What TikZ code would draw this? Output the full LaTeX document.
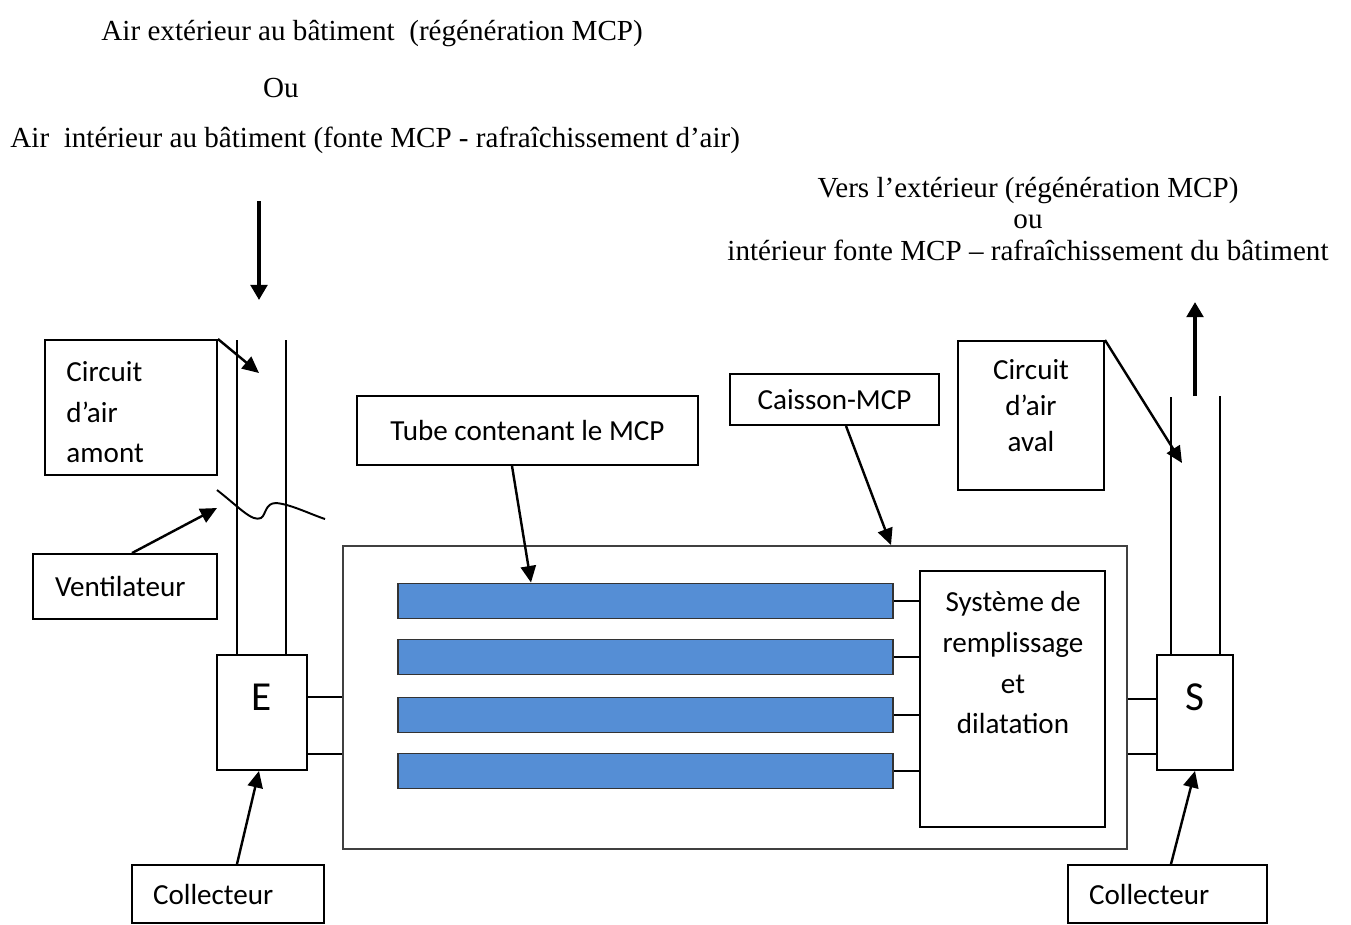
\documentclass[tikz,border=0pt]{standalone}
\usepackage{fontspec}
\setmainfont{Liberation Serif}
\newfontfamily\calibrifont{Carlito}
\usetikzlibrary{arrows.meta, positioning}
\newcommand{\pxu}{0.0145cm}
\definecolor{tubeblue}{RGB}{85,142,213}

\begin{document}
\begin{tikzpicture}[
    x=\pxu, y=-\pxu,
    caption/.style={inner sep=0pt, font=\fontsize{12}{13}\selectfont},
    box/.style={
      draw=black,
      line width=0.8pt,
      inner sep=0pt,
      font=\calibrifont\fontsize{12}{14}\selectfont
    },
    boxtext/.style={inner sep=0pt, font=\calibrifont\fontsize{12}{16.8}\selectfont},
    tube/.style={
      draw=black!80,
      fill=tubeblue,
      line width=0.8pt,
      inner sep=0pt,
      minimum width=495*\pxu,
      minimum height=35*\pxu
    },
    wall/.style={line width=0.8pt},
    line/.style={-{Triangle[length=0.24cm, width=0.22cm]}, line width=1pt},
    flow/.style={-{Triangle[length=0.22cm, width=0.24cm]}, line width=1.6pt}
  ]
    \useasboundingbox (0,0) rectangle (1351,924);

    % textes du haut
    \node[caption, anchor=west] (inair) at (101,34) {Air extérieur au bâtiment~ (régénération MCP)};
    \node[caption] (inor) at (281,88) {Ou};
    \node[caption, anchor=west] (inalt) at (10,140) {Air~ intérieur au bâtiment (fonte MCP - rafraîchissement d’air)};
    \node[caption, align=center] (outair) at (1028,219) {Vers l’extérieur (régénération MCP)\\ou\\intérieur fonte MCP – rafraîchissement du bâtiment};

    % boites
    \node[box, minimum width=172*\pxu, minimum height=135*\pxu] (amont) at (131,407.5) {};
    \node[boxtext, anchor=north west, align=left] (amonttxt) at (66,361) {Circuit\\d’air\\amont};
    \node[box, minimum height=65*\pxu, align=left, text width=140*\pxu, inner xsep=22*\pxu] (vent) at (125,586.5) {Ventilateur};
    \node[box, minimum width=341*\pxu, minimum height=69*\pxu] (tubelbl) at (527.5,430.5) {Tube contenant le MCP};
    \node[box, minimum width=209*\pxu, minimum height=51*\pxu] (caisslbl) at (834.5,399.5) {Caisson-MCP};
    \node[box, minimum width=146*\pxu, minimum height=149*\pxu] (aval) at (1031,415.5) {};
    \node[boxtext, anchor=north, align=center, font=\calibrifont\fontsize{12}{14.8}\selectfont] (avaltxt) at (1031,359) {Circuit\\d’air\\aval};

    \node[box, draw=black!75, minimum width=784*\pxu, minimum height=303*\pxu] (caisson) at (735,697.5) {};
    \foreach \i/\yy in {1/601, 2/657, 3/715, 4/771}
      \node[tube] (tube\i) at (645.5,\yy) {};
    \node[box, minimum width=185*\pxu, minimum height=256*\pxu] (sys) at (1012.5,699) {};
    \node[boxtext, anchor=north, align=center] (systxt) at (1013,591) {Système de\\remplissage\\et\\dilatation};

    \node[box, minimum width=90*\pxu, minimum height=115*\pxu, font=\calibrifont\fontsize{17}{20}\selectfont, text height=0.39cm, text depth=0.45cm] (entree) at (262,712.5) {E};
    \node[box, minimum width=76*\pxu, minimum height=115*\pxu, font=\calibrifont\fontsize{17}{20}\selectfont, text height=0.39cm, text depth=0.45cm] (sortie) at (1195,712.5) {S};

    \node[box, minimum height=58*\pxu, align=left, text width=150*\pxu, inner xsep=21*\pxu] (collL) at (228,894) {Collecteur};
    \node[box, minimum height=58*\pxu, align=left, text width=157*\pxu, inner xsep=21*\pxu] (collR) at (1167.5,894) {Collecteur};

    % conduits
    \draw[wall] (237,340) -- (237,0 |- entree.north);
    \draw[wall] (286,340) -- (286,0 |- entree.north);
    \draw[wall] (1171,397) -- (1171,0 |- sortie.north);
    \draw[wall] (1220,396) -- (1220,0 |- sortie.north);
    \draw[wall] (217,490) .. controls (240,508) and (252,522) .. (261,518)
      .. controls (266,515) and (265,503) .. (276,503)
      .. controls (290,504) and (310,514) .. (325,519);

    \draw[wall] (entree.east |- 0,697) -- (caisson.west |- 0,697);
    \draw[wall] (entree.east |- 0,754) -- (caisson.west |- 0,754);
    \draw[wall] (caisson.east |- 0,699) -- (sortie.west |- 0,699);
    \draw[wall] (caisson.east |- 0,754) -- (sortie.west |- 0,754);
    \foreach \i in {1,...,4}
      \draw[wall] (tube\i.east) -- (sys.west |- tube\i.east);

    % fleches
    \coordinate (intop) at (259,201);
    \coordinate (inbot) at (259,300);
    \coordinate (outbot) at (1195,396);
    \coordinate (outtop) at (1195,302);
    \coordinate (amonttip) at (259,373);
    \coordinate (fantip) at (217,508);
    \coordinate (avaltip) at (1182,463);
    \draw[flow] (intop) -- (inbot);
    \draw[flow] (outbot) -- (outtop);
    \draw[line] (amont.north east) -- (amonttip);
    \draw[line] (132,0 |- vent.north) -- (fantip);
    \draw[line] (512,0 |- tubelbl.south) -- (531,0 |- tube1.north);
    \draw[line] (846,0 |- caisslbl.south) -- (891,0 |- caisson.north);
    \draw[line] (aval.north east) -- (avaltip);
    \draw[line] (237,0 |- collL.north) -- (259,0 |- entree.south);
    \draw[line] (1171,0 |- collR.north) -- (1195,0 |- sortie.south);
  \end{tikzpicture}
\end{document}
